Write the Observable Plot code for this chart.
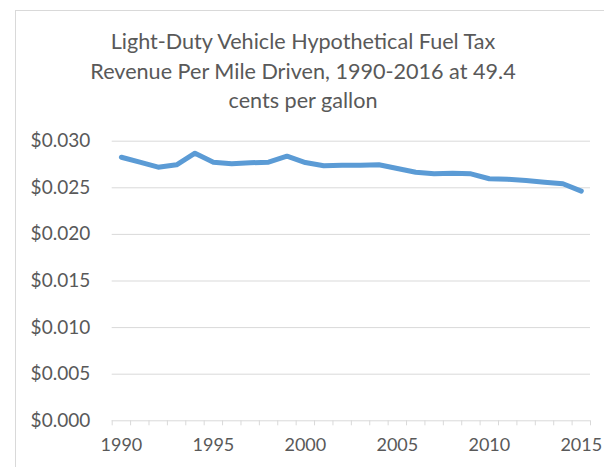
<!DOCTYPE html>
<html>
<head>
<meta charset="utf-8">
<script src="https://cdn.jsdelivr.net/npm/d3@7"></script>
<script src="https://cdn.jsdelivr.net/npm/@observablehq/plot@0.6"></script>
<style>
  html, body { margin: 0; padding: 0; background: #fff; overflow: hidden; }
  #wrap { position: relative; width: 604px; height: 467px; }
  #frame { position: absolute; left: 15px; top: 10px; width: 700px; height: 600px; border: 1px solid #d9d9d9; box-sizing: border-box; }
  #title { position: absolute; left: 0; top: 27px; width: 606px; text-align: center; font-family: Lato, "Open Sans", sans-serif; font-size: 21.6px; line-height: 29.5px; color: #595959; }
  #chart { position: absolute; left: 0; top: 120px; }
  #chart svg { font-family: Lato, "Open Sans", sans-serif; }
</style>
</head>
<body>
<div id="wrap">
  <div id="frame"></div>
  <div id="title">Light-Duty Vehicle Hypothetical Fuel Tax<br>Revenue Per Mile Driven, 1990-2016 at 49.4<br>cents per gallon</div>
  <div id="chart"></div>
</div>
<script>
const years = [1990,1991,1992,1993,1994,1995,1996,1997,1998,1999,2000,2001,2002,2003,2004,2005,2006,2007,2008,2009,2010,2011,2012,2013,2014,2015];
const revenuePerMile = [0.02828,0.02775,0.02721,0.02747,0.02871,0.02775,0.02757,0.02768,0.02775,0.02839,0.02771,0.02736,0.02742,0.02742,0.02747,0.02707,0.02667,0.02650,0.02657,0.02650,0.02597,0.02592,0.02578,0.02560,0.02543,0.02464];
const yTicks = [0,0.005,0.010,0.015,0.020,0.025,0.030];
const xLabelTicks = [1990,1995,2000,2005,2010,2015];

const data = years.map((y, i) => ({year: y, value: revenuePerMile[i]}));
const boundaries = years.map(y => y - 0.5).concat([years[years.length - 1] + 0.5]);

const grid = "#d9d9d9";
const textColor = "#595959";

const chart = Plot.plot({
  width: 604,
  height: 347,
  marginLeft: 111.7,
  marginRight: 14,
  marginTop: 20.7,
  marginBottom: 46.7,
  style: {fontSize: "18px", color: textColor, background: "transparent"},
  x: {type: "linear", domain: [years[0] - 0.5, years[years.length - 1] + 0.5], label: null},
  y: {domain: [0, 0.030], label: null},
  marks: [
    Plot.gridY(yTicks.filter(d => d > 0), {stroke: grid, strokeOpacity: 1, strokeWidth: 1}),
    Plot.axisY(yTicks, {tickSize: 0, tickPadding: 22, tickFormat: d => "$" + d3.format(".3f")(d), fill: textColor, label: null, fontSize: 19}),
    Plot.axisX(boundaries, {tickSize: 5, tickFormat: () => "", stroke: grid, strokeOpacity: 1, label: null}),
    Plot.axisX(xLabelTicks, {tickSize: 0, tickPadding: 17, tickFormat: d => String(d), fill: textColor, label: null}),
    Plot.ruleY([0], {stroke: grid, strokeWidth: 1}),
    Plot.line(data, {x: "year", y: "value", stroke: "#5b9bd5", strokeWidth: 5, strokeLinecap: "round", strokeLinejoin: "round"})
  ]
});
document.getElementById("chart").appendChild(chart);
</script>
</body>
</html>
